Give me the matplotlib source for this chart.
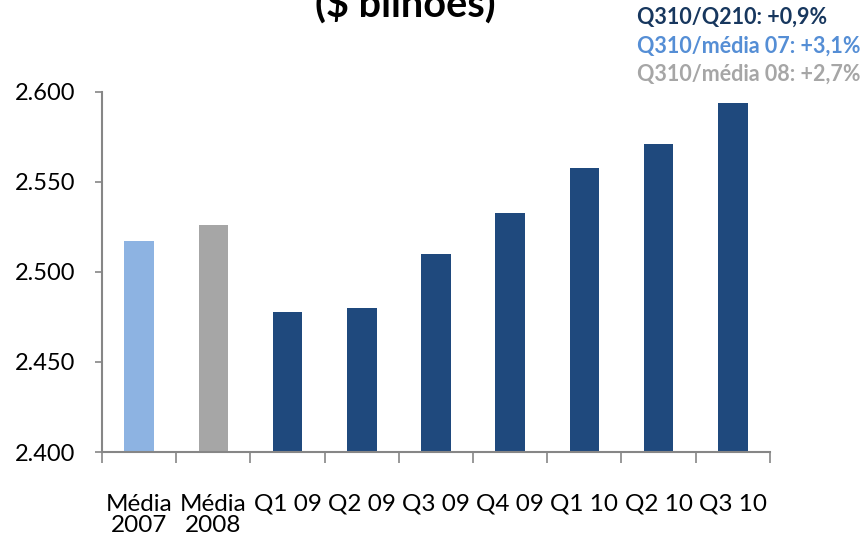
import numpy as np
import matplotlib.pyplot as plt

#### chart data
categorias = ['Média\n2007', 'Média\n2008', 'Q1 09', 'Q2 09', 'Q3 09', 'Q4 09', 'Q1 10', 'Q2 10', 'Q3 10']
valores = [2.517, 2.526, 2.478, 2.480, 2.510, 2.533, 2.558, 2.571, 2.594]
cores = ['#8DB3E2', '#A6A6A6'] + ['#1F497D'] * 7
yticks = [2.400, 2.450, 2.500, 2.550, 2.600]
yticklabels = ['2.400', '2.450', '2.500', '2.550', '2.600']
notas = ['Q310/Q210: +0,9%', 'Q310/média 07: +3,1%', 'Q310/média 08: +2,7%']
cores_notas = ['#17375E', '#558ED5', '#A6A6A6']

plt.rcParams['font.family'] = ['Lato', 'DejaVu Sans']

fig = plt.figure(figsize=(8.65, 5.41), dpi=100)
ax = fig.add_axes([0.118, 0.1645, 0.772, 0.6655])

x_pos = np.arange(len(categorias))
ax.bar(x_pos, np.array(valores) - 2.4, bottom=2.4, width=0.4, color=cores)

ax.set_xlim(-0.5, len(categorias) - 0.5)
ax.set_ylim(2.4, 2.6)
ax.set_yticks(yticks)
ax.set_yticklabels(yticklabels, fontsize=17)

ax.set_xticks(x_pos)
ax.set_xticklabels(categorias, fontsize=17.5, linespacing=1.0, va='top')
ax.set_xticks(np.arange(-0.5, len(categorias)), minor=True)
ax.tick_params(axis='x', which='major', length=0, pad=30)
ax.tick_params(axis='x', which='minor', length=8, width=1.2, color='#868686')
ax.tick_params(axis='y', length=5, width=1.2, color='#868686', pad=14)

# Get rid of most of the frame
for s in ['top', 'right']:
    ax.spines[s].set_visible(False)
for s in ['left', 'bottom']:
    ax.spines[s].set_color('#868686')
    ax.spines[s].set_linewidth(1.5)

# title is cut off at the top of the slide
fig.text(0.469, 1 - 17 / 541, '($ bilhões)', ha='center', va='baseline',
         fontsize=28.5, fontweight='bold', color='black')

nota_y = [17, 46, 74]
for i in range(len(notas)):
    fig.text(637 / 865, 1 - nota_y[i] / 541, notas[i], ha='left', va='center',
             fontsize=15.5, fontweight='bold', color=cores_notas[i])

plt.savefig('out.png', dpi=100)
